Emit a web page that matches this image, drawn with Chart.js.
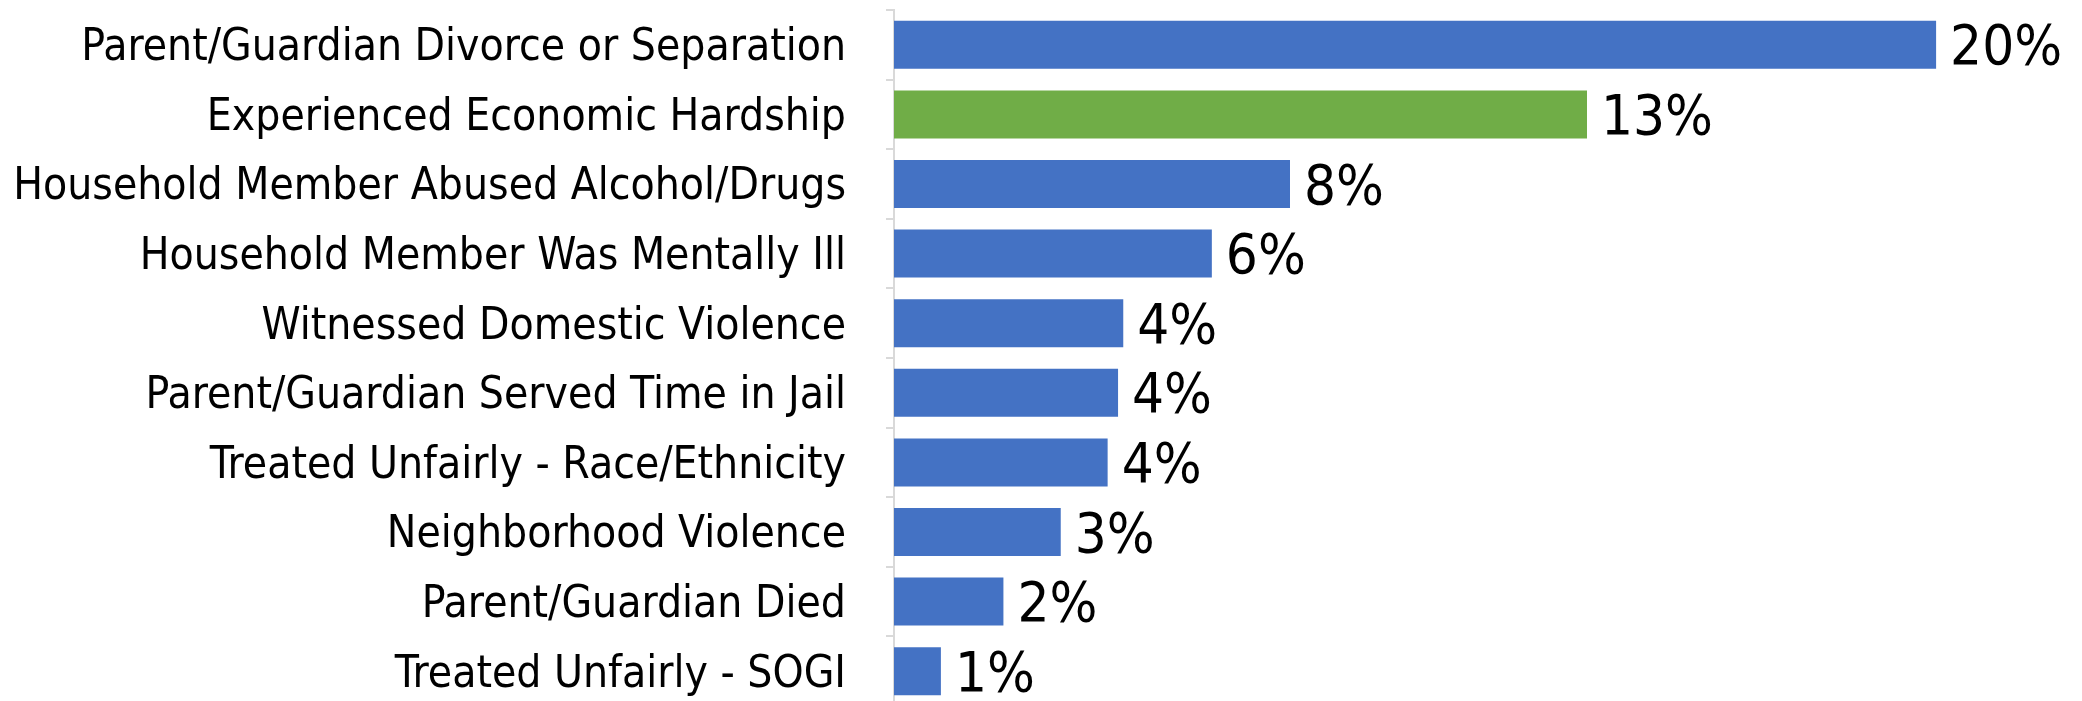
<!DOCTYPE html>
<html>
<head>
<meta charset="utf-8">
<script src="https://cdn.jsdelivr.net/npm/chart.js@4"></script>
<style>
    html, body { margin: 0; padding: 0; background: #fff; overflow: hidden; }
    canvas { display: block; }
</style>
</head>
<body>
<canvas id="ace-chart" width="2082" height="706"></canvas>
<script>
const categories = [
    "Parent/Guardian Divorce or Separation",
    "Experienced Economic Hardship",
    "Household Member Abused Alcohol/Drugs",
    "Household Member Was Mentally Ill",
    "Witnessed Domestic Violence",
    "Parent/Guardian Served Time in Jail",
    "Treated Unfairly - Race/Ethnicity",
    "Neighborhood Violence",
    "Parent/Guardian Died",
    "Treated Unfairly - SOGI"
];
const percentages = [20.0, 13.3, 7.6, 6.1, 4.4, 4.3, 4.1, 3.2, 2.1, 0.9];
const highlighted = "Experienced Economic Hardship";

const FONT = "'Liberation Sans Narrow', 'DejaVu Sans Condensed', 'Roboto', sans-serif";

// percentage written just past the end of each bar
const valueLabels = {
    id: "valueLabels",
    afterDatasetsDraw(chart) {
        const ctx = chart.ctx;
        const meta = chart.getDatasetMeta(0);
        ctx.save();
        ctx.fillStyle = "#000";
        ctx.font = "56px " + FONT;
        ctx.textAlign = "left";
        ctx.textBaseline = "middle";
        meta.data.forEach((bar, i) => {
            const v = chart.data.datasets[0].data[i];
            ctx.fillText(Math.round(v) + "%", bar.x + 14, bar.y + 5);
        });
        ctx.restore();
    }
};

new Chart(document.getElementById("ace-chart"), {
    type: "bar",
    data: {
        labels: categories,
        datasets: [{
            data: percentages,
            backgroundColor: categories.map(c => c === highlighted ? "#70AD47" : "#4472C4"),
            borderWidth: 0,
            barPercentage: 0.69,
            categoryPercentage: 1.0
        }]
    },
    options: {
        indexAxis: "y",
        responsive: false,
        animation: false,
        layout: { padding: { top: 10, left: 0, right: 0, bottom: 0 } },
        plugins: {
            legend: { display: false },
            tooltip: { enabled: false }
        },
        scales: {
            x: {
                display: false,
                min: 0,
                max: 22.8
            },
            y: {
                grid: {
                    drawOnChartArea: false,
                    offset: true,
                    tickLength: 8,
                    color: "#d9d9d9",
                    lineWidth: 2
                },
                border: { display: true, color: "#d9d9d9", width: 2 },
                ticks: {
                    color: "#000",
                    autoSkip: false,
                    padding: 40,
                    labelOffset: 4,
                    font: { family: FONT, size: 44 }
                },
                afterFit: scale => {
                    // fixed gutter for the labels, and no extra room above/below the bars
                    scale.width = 894;
                    scale.paddingTop = 0;
                    scale.paddingBottom = 0;
                }
            }
        }
    },
    plugins: [valueLabels]
});
</script>
</body>
</html>
